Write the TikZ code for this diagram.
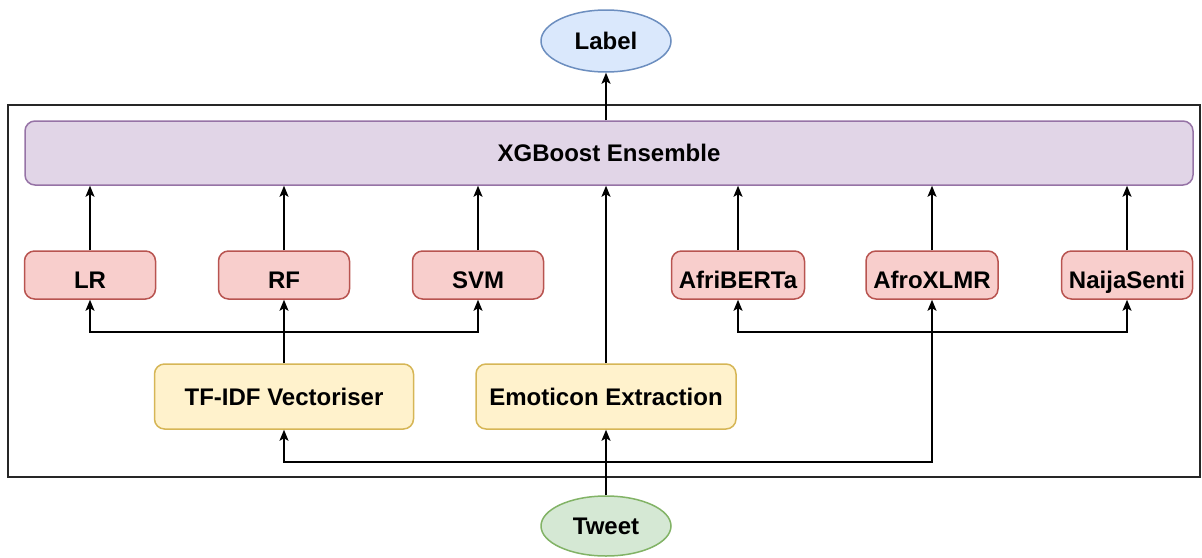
\documentclass[tikz,border=0pt]{standalone}
\usepackage{fontspec}
\setmainfont{Liberation Sans}
\usetikzlibrary{shapes.geometric,arrows.meta}
\definecolor{blueF}{HTML}{DAE8FC}\definecolor{blueD}{HTML}{6C8EBF}
\definecolor{purF}{HTML}{E1D5E7}\definecolor{purD}{HTML}{9673A6}
\definecolor{redF}{HTML}{F8CECC}\definecolor{redD}{HTML}{B85450}
\definecolor{yelF}{HTML}{FFF2CC}\definecolor{yelD}{HTML}{D6B656}
\definecolor{grnF}{HTML}{D5E8D4}\definecolor{grnD}{HTML}{82B366}
\tikzset{
  lbl/.style={font=\fontsize{24}{29}\selectfont\bfseries, inner sep=0pt, text height=17pt, text depth=0pt},
  oval/.style={lbl, ellipse, line width=1.5pt, minimum width=130pt, minimum height=60pt},
  box/.style={lbl, rectangle, rounded corners=10pt, line width=1.5pt},
  model/.style={box, fill=redF, draw=redD, minimum height=48pt, minimum width=131pt, text height=26pt},
  prep/.style={box, fill=yelF, draw=yelD, minimum height=65pt, minimum width=259pt},
  arr/.style={line width=1.5pt, -{Stealth[length=11pt,width=9pt,inset=2.5pt]}},
  ln/.style={line width=1.5pt},
}
\begin{document}
\begin{tikzpicture}[x=1pt,y=-1pt]
\useasboundingbox (0,0) rectangle (1202,557);
\draw[line width=1.5pt, black!85] (8,105) rectangle (1200,477);
\node[oval, fill=blueF, draw=blueD, minimum height=62pt] (label) at (606,41) {Label};
\node[oval, fill=grnF, draw=grnD] (tweet) at (606,526) {Tweet};
\node[box, fill=purF, draw=purD, minimum width=1168pt, minimum height=64pt] (xgb) at (609,153) {XGBoost Ensemble};
\node[model] (lr) at (90,275) {LR};
\node[model] (rf) at (284,275) {RF};
\node[model] (svm) at (478,275) {SVM};
\node[model, minimum width=133pt] (afri) at (738,275) {AfriBERTa};
\node[model, minimum width=132pt] (afro) at (932,275) {AfroXLMR};
\node[model] (naija) at (1127,275) {NaijaSenti};
\node[prep] (tfidf) at (284,396.5) {TF-IDF Vectoriser};
\node[prep, minimum width=260pt] (emo) at (606,396.5) {Emoticon Extraction};
\coordinate (j1) at (284,332);
\coordinate (j2) at (932,332);
\coordinate (b) at (606,462);
% to label
\draw[arr] (label.south |- xgb.north) -- (label.south);
% models to xgb
\foreach \m in {lr,rf,svm,afri,afro,naija}{
  \draw[arr] (\m.north) -- (\m.north |- xgb.south);
}
\draw[arr] (emo.north) -- (emo.north |- xgb.south);
% tfidf fan-out
\draw[ln] (tfidf.north) -- (j1);
\draw[arr] (j1) -- (rf.south);
\draw[arr] (j1) -| (lr.south);
\draw[arr] (j1) -| (svm.south);
% transformer fan-out
\draw[arr] (j2) -- (afro.south);
\draw[arr] (j2) -| (afri.south);
\draw[arr] (j2) -| (naija.south);
% tweet
\draw[arr] (tweet.north) -- (emo.south);
\draw[arr] (b) -| (tfidf.south);
\draw[ln] (b) -| (j2);
\end{tikzpicture}
\end{document}
